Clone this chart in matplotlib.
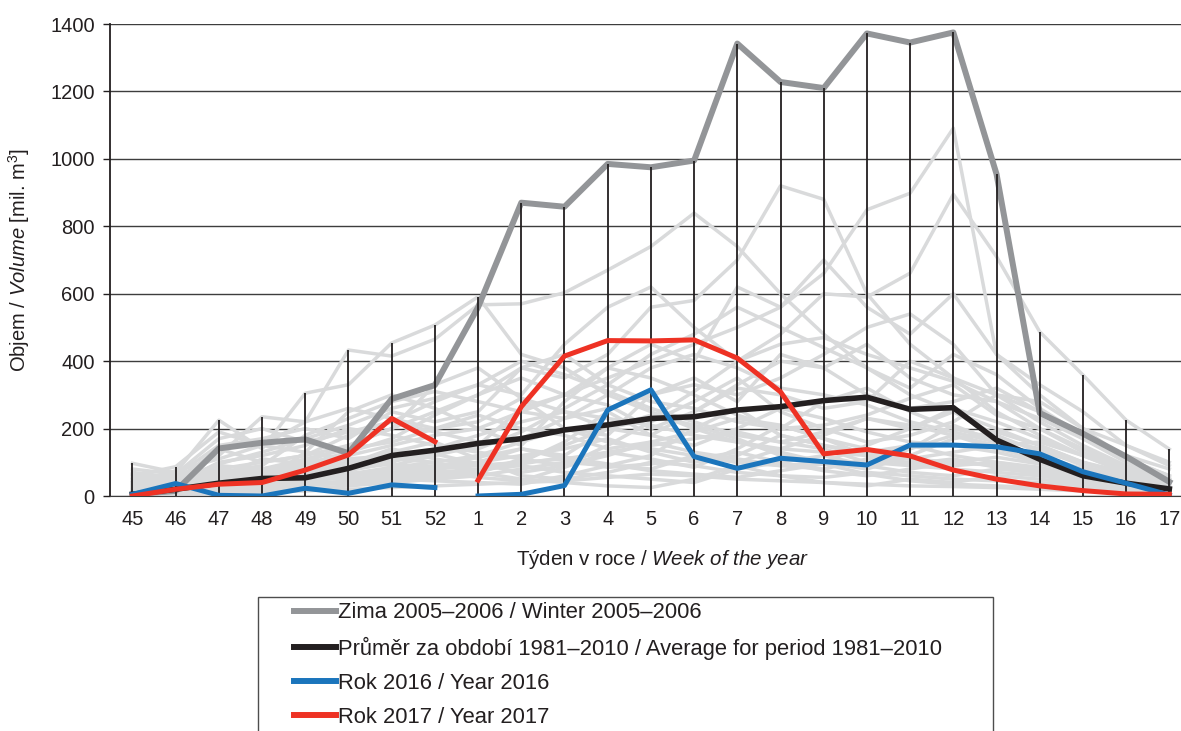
import matplotlib
matplotlib.use("Agg")
import matplotlib.pyplot as plt
from matplotlib.lines import Line2D
from matplotlib.patches import Rectangle
import numpy as np

plt.rcParams["font.family"] = ["Liberation Sans", "DejaVu Sans"]
plt.rcParams["mathtext.fontset"] = "custom"
plt.rcParams["mathtext.rm"] = "Liberation Sans"
plt.rcParams["mathtext.it"] = "Liberation Sans:italic"

# week labels, Nov (45) through Apr (17)
weeks = ["45", "46", "47", "48", "49", "50", "51", "52",
         "1", "2", "3", "4", "5", "6", "7", "8", "9", "10", "11", "12",
         "13", "14", "15", "16", "17"]

# individual winters 1981-2010 (light grey background)
winters = [
    [97, 70, 225, 140, 305, 330, 454, 507, 591, 420, 380, 300, 250, 200, 260, 180, 150, 120, 140, 180, 150, 100, 60, 40, 20],
    [40, 55, 120, 235, 220, 433, 415, 465, 567, 570, 603, 670, 740, 839, 740, 600, 480, 380, 300, 250, 200, 150, 100, 70, 40],
    [20, 30, 60, 80, 100, 150, 200, 250, 300, 380, 350, 420, 560, 580, 700, 920, 880, 600, 450, 350, 300, 250, 180, 120, 80],
    [10, 20, 50, 60, 90, 120, 150, 180, 200, 250, 300, 350, 400, 450, 500, 560, 660, 849, 898, 1091, 420, 300, 200, 150, 100],
    [30, 40, 80, 100, 120, 180, 220, 280, 330, 300, 450, 560, 620, 500, 400, 480, 600, 590, 661, 895, 710, 487, 359, 225, 139],
    [60, 87, 190, 150, 130, 250, 300, 260, 200, 150, 280, 380, 450, 400, 620, 560, 700, 560, 480, 600, 420, 330, 250, 150, 90],
    [15, 25, 40, 50, 70, 90, 110, 100, 120, 160, 200, 180, 300, 350, 280, 420, 380, 450, 350, 300, 280, 200, 130, 80, 50],
    [5, 10, 20, 30, 40, 60, 80, 90, 100, 140, 120, 200, 180, 250, 320, 300, 260, 280, 400, 350, 250, 180, 120, 70, 30],
    [25, 35, 100, 120, 150, 200, 180, 150, 130, 110, 90, 150, 220, 280, 350, 250, 200, 160, 180, 220, 300, 280, 200, 110, 60],
    [50, 60, 150, 170, 200, 170, 250, 220, 250, 380, 420, 330, 280, 260, 220, 200, 280, 320, 250, 200, 170, 140, 90, 50, 25],
    [8, 15, 30, 45, 60, 75, 100, 140, 180, 220, 250, 230, 210, 180, 160, 140, 130, 120, 110, 130, 150, 160, 120, 80, 45],
    [35, 45, 70, 90, 180, 230, 280, 310, 280, 250, 230, 260, 300, 330, 300, 350, 420, 500, 540, 450, 300, 220, 150, 90, 50],
    [12, 18, 25, 35, 50, 60, 70, 80, 90, 100, 110, 130, 150, 170, 190, 160, 140, 100, 90, 80, 70, 60, 40, 30, 15],
    [70, 55, 90, 80, 110, 140, 160, 200, 240, 200, 180, 140, 160, 130, 110, 90, 80, 110, 100, 90, 100, 80, 60, 35, 20],
    [3, 5, 10, 15, 20, 30, 40, 50, 60, 80, 100, 90, 80, 120, 100, 140, 180, 230, 200, 250, 180, 130, 100, 60, 30],
    [45, 30, 55, 110, 95, 130, 170, 240, 300, 350, 300, 270, 200, 250, 330, 400, 380, 300, 260, 280, 320, 250, 170, 100, 55],
    [18, 22, 35, 40, 130, 110, 90, 120, 150, 260, 300, 380, 350, 300, 240, 200, 210, 240, 290, 330, 240, 200, 140, 85, 35],
    [80, 65, 170, 200, 160, 190, 220, 190, 160, 170, 230, 300, 380, 420, 380, 320, 300, 270, 220, 190, 160, 110, 70, 45, 25],
    [28, 32, 48, 70, 85, 100, 130, 160, 110, 60, 50, 70, 100, 90, 70, 60, 55, 70, 60, 50, 45, 40, 30, 20, 10],
    [55, 50, 80, 60, 75, 95, 140, 110, 90, 100, 160, 250, 180, 150, 200, 260, 230, 190, 160, 150, 130, 100, 70, 40, 15],
    [2, 8, 15, 25, 35, 45, 60, 70, 80, 90, 70, 60, 50, 40, 80, 100, 120, 90, 70, 60, 80, 70, 50, 30, 10],
    [40, 75, 110, 150, 220, 260, 230, 200, 220, 290, 250, 200, 230, 310, 400, 450, 470, 420, 380, 340, 280, 230, 170, 110, 60],
    [20, 28, 60, 65, 80, 70, 60, 80, 100, 120, 140, 170, 130, 100, 120, 180, 150, 130, 150, 120, 100, 85, 55, 35, 18],
    [65, 45, 140, 100, 120, 150, 200, 330, 380, 290, 200, 160, 140, 120, 100, 90, 100, 150, 200, 260, 220, 170, 120, 70, 35],
    [10, 12, 20, 22, 30, 40, 50, 45, 40, 35, 60, 90, 120, 200, 160, 130, 100, 80, 120, 170, 190, 150, 100, 60, 25],
    [33, 38, 65, 80, 90, 110, 120, 130, 140, 190, 260, 330, 420, 480, 560, 500, 440, 380, 320, 420, 360, 260, 180, 110, 50],
    [48, 42, 95, 130, 170, 210, 260, 290, 330, 400, 360, 310, 260, 220, 180, 160, 190, 230, 210, 180, 140, 110, 80, 50, 22],
    [6, 14, 28, 38, 55, 65, 85, 100, 70, 50, 40, 30, 25, 50, 90, 60, 40, 30, 50, 40, 60, 50, 35, 20, 8],
    [1, 3, 8, 12, 15, 20, 25, 30, 35, 40, 45, 55, 65, 60, 50, 45, 40, 35, 30, 28, 25, 20, 15, 10, 5],
    [22, 26, 45, 55, 65, 80, 95, 75, 55, 45, 85, 130, 110, 85, 140, 210, 170, 140, 110, 100, 90, 75, 50, 30, 12],
    [14, 20, 38, 42, 48, 52, 58, 62, 75, 95, 115, 95, 75, 65, 55, 75, 95, 65, 45, 35, 30, 25, 20, 15, 8],
    [38, 34, 52, 75, 68, 88, 105, 125, 95, 70, 90, 120, 160, 190, 230, 210, 170, 120, 95, 110, 85, 65, 45, 25, 12],
    [4, 9, 18, 28, 33, 38, 48, 58, 68, 110, 150, 200, 240, 210, 170, 120, 100, 90, 140, 210, 160, 120, 80, 45, 20],
    [16, 24, 33, 58, 78, 60, 70, 85, 115, 140, 110, 85, 95, 110, 130, 100, 75, 60, 80, 100, 115, 95, 65, 40, 18],
]

winter_0506 = [5, 15, 141, 158, 168, 127, 288, 329, 560, 870, 858, 985, 975, 995, 1342, 1228, 1210,
               1372, 1345, 1375, 955, 246, 185, 117, 42]
average = [5, 20, 38, 52, 54, 82, 120, 136, 156, 170, 196, 211, 230, 235, 255, 265, 283, 293,
           257, 262, 166, 109, 60, 38, 21]
# 2016 / 2017: Nov-Dec part and Jan-Apr part are separate seasons (no link across new year)
year_2016 = [5, 37, 2, 0, 23, 8, 33, 25, np.nan, 0, 5, 31, 255, 315, 117, 82, 112, 102, 92,
             151, 151, 146, 125, 72, 38, 3]
year_2017 = [0, 20, 35, 40, 77, 122, 230, 161, np.nan, 47, 265, 415, 461, 460, 463, 409, 309,
             125, 138, 119, 77, 50, 30, 16, 6, 5]

labels = ["Zima 2005–2006 / Winter 2005–2006",
          "Průměr za období 1981–2010 / Average for period 1981–2010",
          "Rok 2016 / Year 2016",
          "Rok 2017 / Year 2017"]
colors = ["#939598", "#231f20", "#1b75bc", "#ee3224"]
txt = "#231f20"

x = np.arange(len(weeks))
# x positions with a break slot between week 52 and week 1
x_split = np.concatenate([x[:8], [np.nan], x[8:]])

fig = plt.figure(figsize=(11.81, 7.31), dpi=100)
ax = fig.add_axes([110 / 1181, 1 - 496 / 731, 1 - 110 / 1181, 472 / 731])

for w in winters:
    ax.plot(x, w, color="#d9dadb", lw=2.5, zorder=2)

ax.plot(x, winter_0506, color=colors[0], lw=4.3, zorder=3)

# max of all winters at each week
all_vals = np.array(winters + [winter_0506])
ax.vlines(x, 0, all_vals.max(axis=0), color=txt, lw=1.3, zorder=4)

ax.plot(x, average, color=colors[1], lw=4.0, zorder=5)
ax.plot(x_split, year_2016, color=colors[2], lw=3.6, zorder=6)
ax.plot(x_split, year_2017, color=colors[3], lw=3.6, zorder=7)

ax.set_xlim(-0.52, 24.27)
ax.set_ylim(0, 1400)
ax.set_yticks(np.arange(0, 1401, 200))
ax.set_xticks(x, weeks)
ax.grid(axis="y", color="#3d3d3d", lw=1.0, zorder=0)
ax.set_axisbelow(True)
for s in ["top", "right"]:
    ax.spines[s].set_visible(False)
ax.spines["bottom"].set_color("#3d3d3d")
ax.spines["left"].set_color(txt)
ax.spines["left"].set_linewidth(1.3)
ax.tick_params(axis="y", length=5, width=1, color=txt, labelsize=14.5, pad=6, labelcolor=txt)
ax.tick_params(axis="x", length=0, labelsize=14.5, pad=10, labelcolor=txt)

ax.set_ylabel(r"Objem / $\it{Volume}$ [mil. m$^3$]", fontsize=14.5, color=txt)
ax.yaxis.set_label_coords(-78 / 1071, 0.5)
ax.set_xlabel(r"Týden v roce / $\it{Week\ of\ the\ year}$", fontsize=14.8, color=txt)
ax.xaxis.set_label_coords(553 / 1071, -52 / 472)

# legend box runs off the bottom edge
fig.patches.append(Rectangle((258 / 1181, 1 - 745 / 731), 735 / 1181, 148 / 731,
                             transform=fig.transFigure, fill=False, edgecolor="#4d4d4d", lw=1.0))
handles = [Line2D([0], [0], color=c, lw=4.3) for c in colors]
fig.legend(handles, labels, loc="upper left", bbox_to_anchor=(290 / 1181, 1 - 598 / 731),
           frameon=False, fontsize=15.8, handlelength=1.9, handletextpad=0.1,
           labelspacing=0.6, borderaxespad=0, borderpad=0.2, labelcolor=txt)

fig.savefig("out.png", dpi=100)
